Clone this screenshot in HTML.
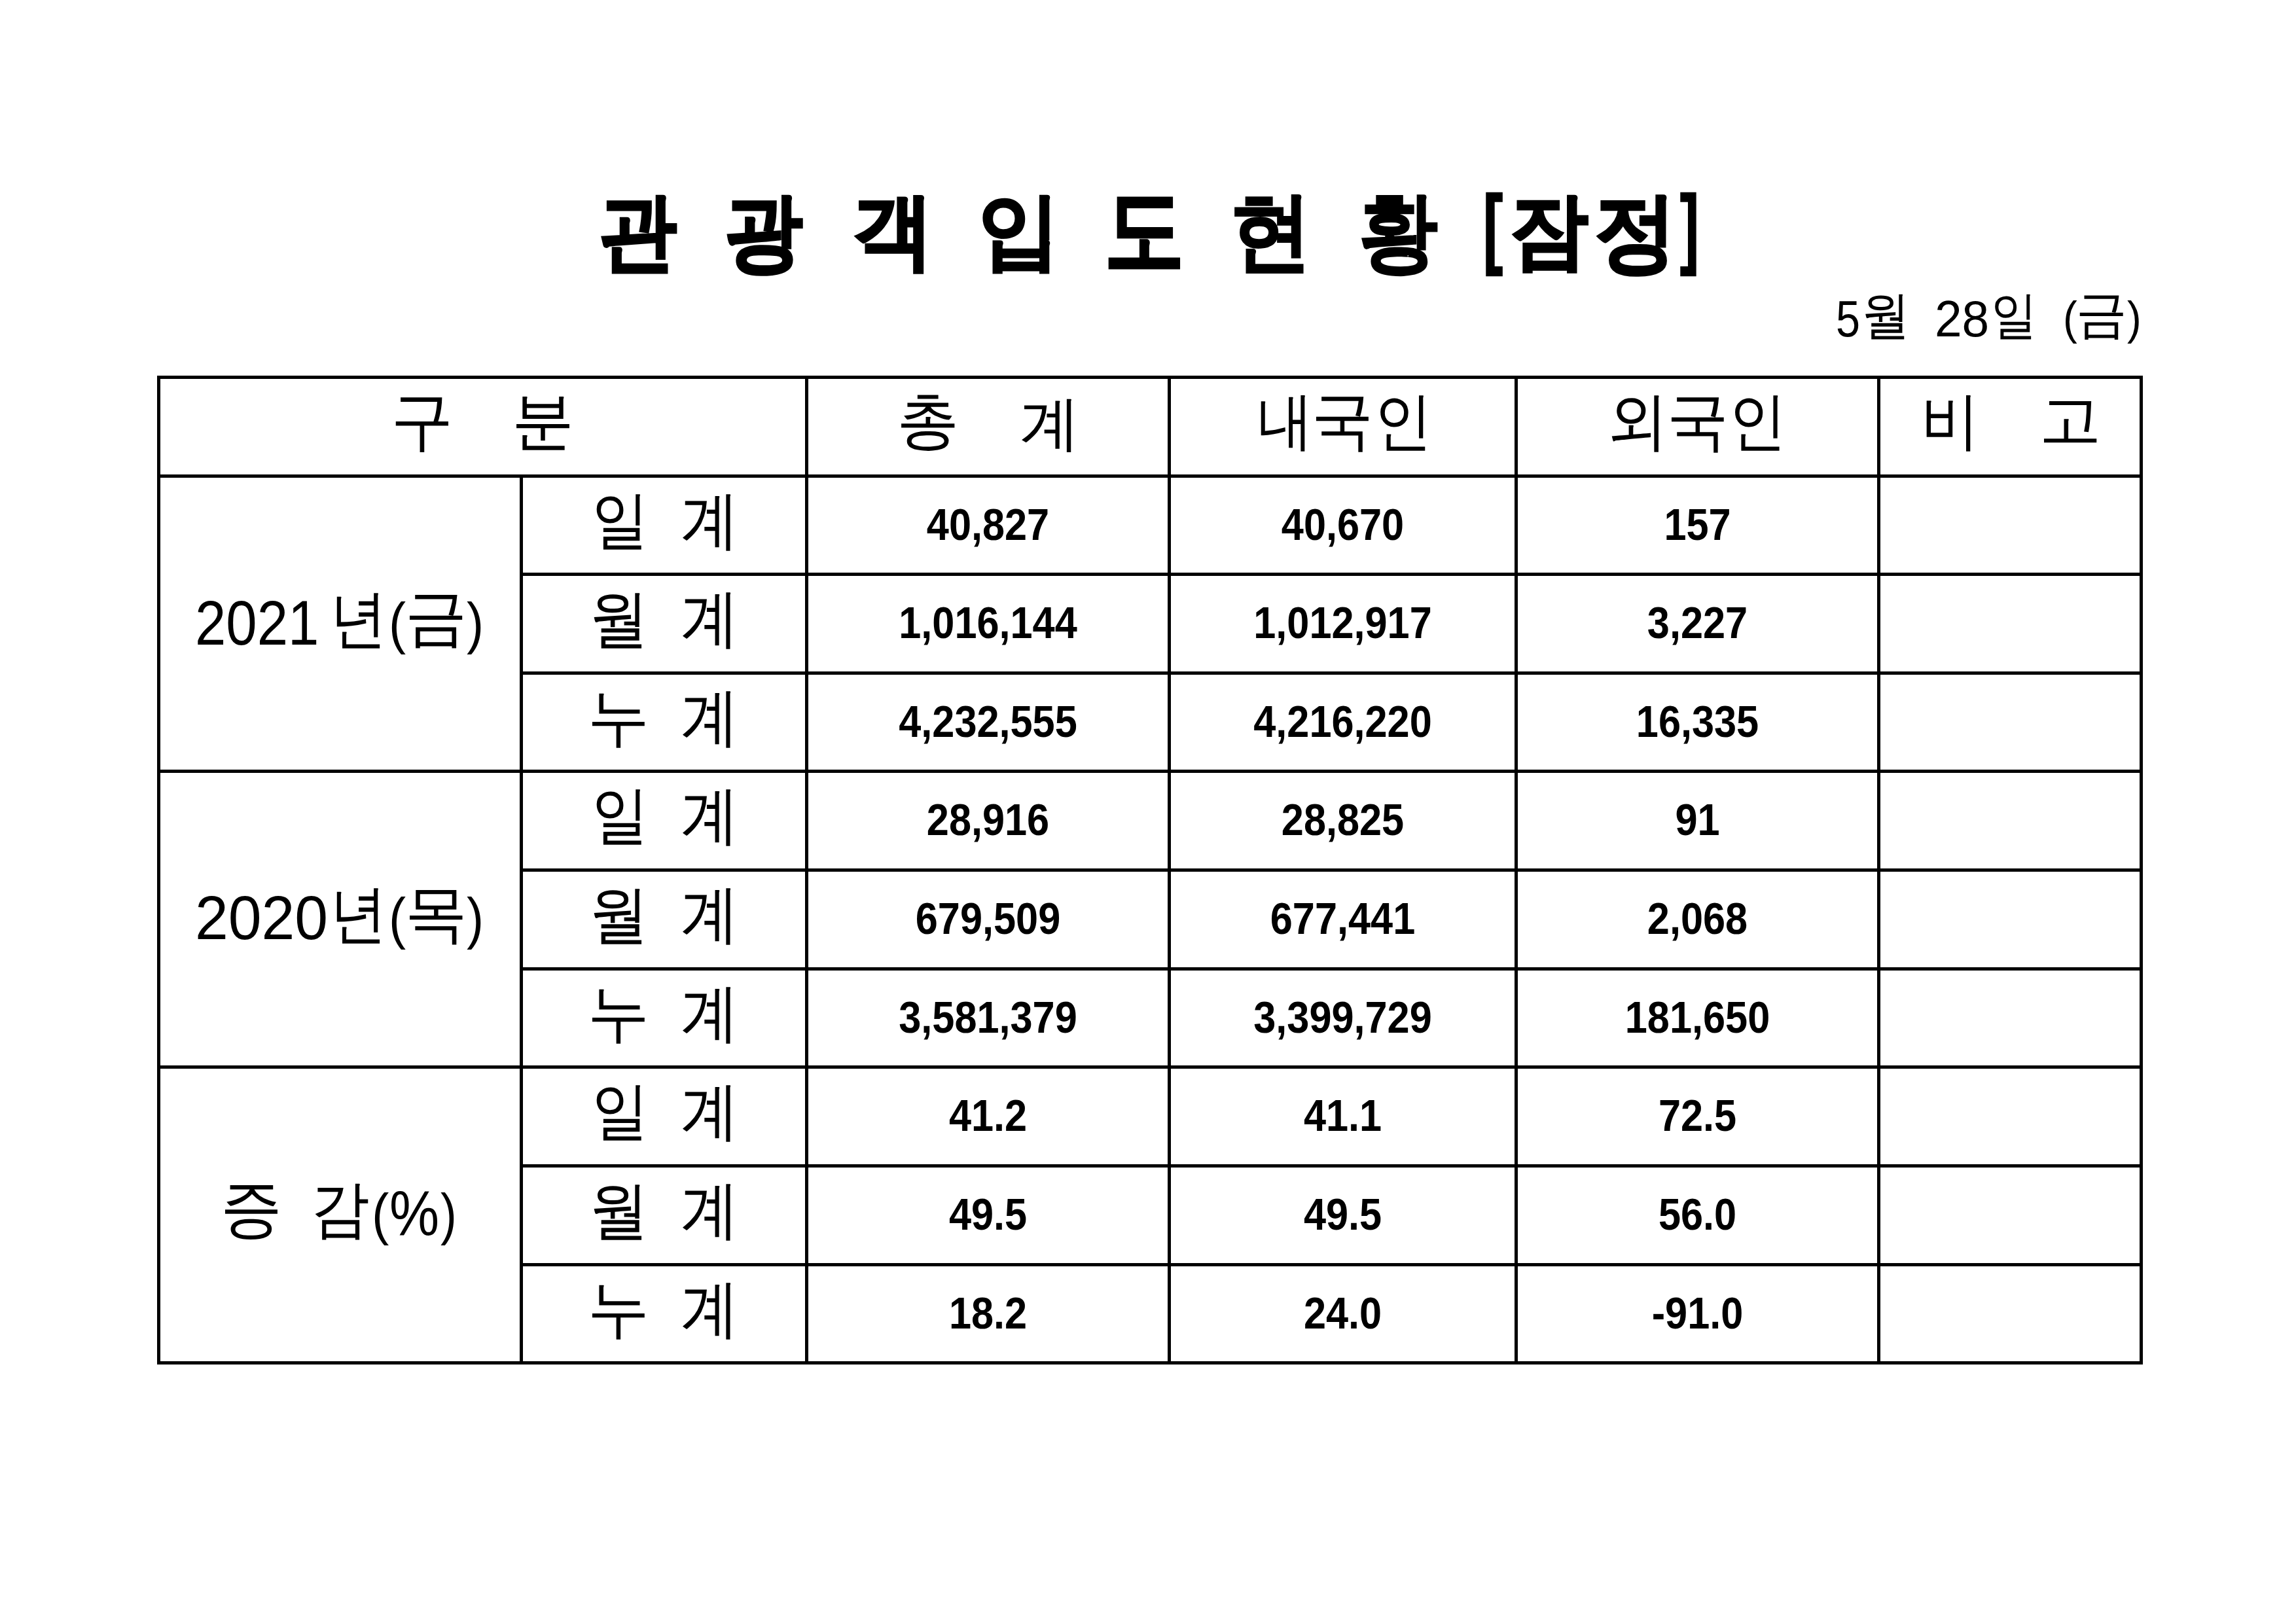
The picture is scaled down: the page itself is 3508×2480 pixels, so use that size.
<!DOCTYPE html>
<html lang="ko"><head><meta charset="utf-8"><title>관광객 입도 현황 (잠정)</title>
<style>
html,body{margin:0;padding:0;background:#fff;}
body{width:3508px;height:2480px;position:relative;overflow:hidden;font-family:"Liberation Sans",sans-serif;color:#000;}
.a{position:absolute;line-height:1;white-space:pre;transform-origin:0 0;}
.l{position:absolute;background:#000;}
.n{position:absolute;line-height:1;white-space:pre;text-align:center;font-weight:bold;transform-origin:50% 0;}
</style></head><body>

<div class="l" style="left:240px;top:574px;width:3034px;height:5px"></div>
<div class="l" style="left:240px;top:725px;width:3034px;height:5px"></div>
<div class="l" style="left:794px;top:875px;width:2480px;height:5px"></div>
<div class="l" style="left:794px;top:1026px;width:2480px;height:5px"></div>
<div class="l" style="left:240px;top:1176px;width:3034px;height:5px"></div>
<div class="l" style="left:794px;top:1327px;width:2480px;height:5px"></div>
<div class="l" style="left:794px;top:1478px;width:2480px;height:5px"></div>
<div class="l" style="left:240px;top:1628px;width:3034px;height:5px"></div>
<div class="l" style="left:794px;top:1779px;width:2480px;height:5px"></div>
<div class="l" style="left:794px;top:1930px;width:2480px;height:5px"></div>
<div class="l" style="left:240px;top:2080px;width:3034px;height:5px"></div>
<div class="l" style="left:240px;top:574px;width:5px;height:1511px"></div>
<div class="l" style="left:794px;top:725px;width:5px;height:1360px"></div>
<div class="l" style="left:1230px;top:574px;width:5px;height:1511px"></div>
<div class="l" style="left:1784px;top:574px;width:5px;height:1511px"></div>
<div class="l" style="left:2314px;top:574px;width:5px;height:1511px"></div>
<div class="l" style="left:2868px;top:574px;width:5px;height:1511px"></div>
<div class="l" style="left:3269px;top:574px;width:5px;height:1511px"></div>
<div class="a" style="left:915.10px;top:288.95px;font-size:130.11px;font-weight:bold;-webkit-text-stroke:3.5px #000;transform:scaleX(0.9142);">관</div>
<div class="a" style="left:1107.40px;top:288.95px;font-size:130.28px;font-weight:bold;-webkit-text-stroke:3.5px #000;transform:scaleX(0.9174);">광</div>
<div class="a" style="left:1301.65px;top:289.75px;font-size:125.52px;font-weight:bold;-webkit-text-stroke:3.5px #000;transform:scaleX(0.9837);">객</div>
<div class="a" style="left:1494.00px;top:288.70px;font-size:126.96px;font-weight:bold;-webkit-text-stroke:2.5px #000;transform:scaleX(0.9926);">입</div>
<div class="a" style="left:1687.95px;top:276.65px;font-size:147.82px;font-weight:bold;-webkit-text-stroke:3.5px #000;transform:scaleX(0.8161);">도</div>
<div class="a" style="left:1878.70px;top:288.20px;font-size:131.75px;font-weight:bold;-webkit-text-stroke:2px #000;transform:scaleX(0.9491);">현</div>
<div class="a" style="left:2075.75px;top:287.45px;font-size:133.30px;font-weight:bold;-webkit-text-stroke:2px #000;transform:scaleX(0.9073);">황</div>
<div class="a" style="left:2266.40px;top:279.25px;font-size:135.61px;font-weight:bold;-webkit-text-stroke:2.5px #000;transform:scaleX(0.6670);">[</div>
<div class="a" style="left:2307.20px;top:289.95px;font-size:125.22px;font-weight:bold;-webkit-text-stroke:3.5px #000;transform:scaleX(0.9557);">잠</div>
<div class="a" style="left:2435.70px;top:289.20px;font-size:131.59px;font-weight:bold;-webkit-text-stroke:3.5px #000;transform:scaleX(0.9517);">정</div>
<div class="a" style="left:2566.85px;top:279.25px;font-size:135.19px;font-weight:bold;-webkit-text-stroke:2.5px #000;transform:scaleX(0.6377);">]</div>
<div class="a" style="left:2804.65px;top:448.70px;font-size:77.96px;transform:scaleX(0.8537);">5</div>
<div class="a" style="left:2844.00px;top:442.40px;font-size:79.31px;transform:scaleX(0.9396);">월</div>
<div class="a" style="left:2955.70px;top:449.20px;font-size:77.30px;transform:scaleX(0.9681);">28</div>
<div class="a" style="left:3042.30px;top:442.40px;font-size:79.31px;transform:scaleX(0.8908);">일</div>
<div class="a" style="left:3151.80px;top:451.45px;font-size:70.08px;transform:scaleX(0.9315);">(</div>
<div class="a" style="left:3172.35px;top:439.90px;font-size:79.18px;transform:scaleX(0.9819);">금</div>
<div class="a" style="left:3249.70px;top:451.45px;font-size:70.08px;transform:scaleX(0.9315);">)</div>
<div class="a" style="left:597.00px;top:593.20px;font-size:99.08px;transform:scaleX(0.9689);">구</div>
<div class="a" style="left:781.60px;top:595.00px;font-size:96.00px;transform:scaleX(0.9903);">분</div>
<div class="a" style="left:1369.55px;top:595.00px;font-size:94.88px;transform:scaleX(1.0056);">총</div>
<div class="a" style="left:1557.75px;top:601.85px;font-size:90.75px;transform:scaleX(1.0103);">계</div>
<div class="a" style="left:1920.60px;top:595.35px;font-size:96.01px;transform:scaleX(0.8843);">내</div>
<div class="a" style="left:2004.00px;top:594.30px;font-size:96.69px;transform:scaleX(0.9686);">국</div>
<div class="a" style="left:2098.90px;top:594.90px;font-size:96.69px;transform:scaleX(0.9222);">인</div>
<div class="a" style="left:2455.40px;top:595.00px;font-size:97.12px;transform:scaleX(0.9668);">외</div>
<div class="a" style="left:2546.90px;top:594.50px;font-size:97.16px;transform:scaleX(0.9664);">국</div>
<div class="a" style="left:2641.25px;top:595.00px;font-size:97.14px;transform:scaleX(0.9138);">인</div>
<div class="a" style="left:2935.20px;top:595.20px;font-size:96.45px;transform:scaleX(0.9318);">비</div>
<div class="a" style="left:3116.35px;top:597.30px;font-size:90.83px;transform:scaleX(1.0375);">고</div>
<div class="a" style="left:298.45px;top:903.60px;font-size:96.29px;transform:scaleX(0.8836);">2021</div>
<div class="a" style="left:504.30px;top:897.80px;font-size:96.91px;transform:scaleX(0.8970);">년</div>
<div class="a" style="left:593.50px;top:908.55px;font-size:86.93px;transform:scaleX(0.9011);">(</div>
<div class="a" style="left:619.00px;top:896.45px;font-size:94.84px;transform:scaleX(0.9924);">금</div>
<div class="a" style="left:712.50px;top:908.55px;font-size:86.93px;transform:scaleX(0.9011);">)</div>
<div class="a" style="left:297.50px;top:1354.95px;font-size:95.44px;transform:scaleX(0.9569);">2020</div>
<div class="a" style="left:504.30px;top:1347.95px;font-size:97.03px;transform:scaleX(0.8960);">년</div>
<div class="a" style="left:593.85px;top:1359.75px;font-size:87.47px;transform:scaleX(0.8967);">(</div>
<div class="a" style="left:619.00px;top:1348.40px;font-size:95.56px;transform:scaleX(0.9850);">목</div>
<div class="a" style="left:712.50px;top:1359.75px;font-size:86.93px;transform:scaleX(0.9011);">)</div>
<div class="a" style="left:337.05px;top:1796.95px;font-size:98.01px;transform:scaleX(0.9591);">증</div>
<div class="a" style="left:475.30px;top:1799.75px;font-size:95.00px;transform:scaleX(0.9424);">감</div>
<div class="a" style="left:568.35px;top:1811.75px;font-size:86.83px;transform:scaleX(0.9112);">(</div>
<div class="a" style="left:595.40px;top:1806.25px;font-size:96.31px;transform:scaleX(0.8883);">%</div>
<div class="a" style="left:672.90px;top:1811.75px;font-size:86.83px;transform:scaleX(0.8580);">)</div>
<div class="a" style="left:903.60px;top:746.90px;font-size:96.91px;transform:scaleX(0.8981);">일</div>
<div class="a" style="left:1040.45px;top:746.00px;font-size:97.12px;transform:scaleX(0.9151);">계</div>
<div class="a" style="left:899.65px;top:896.75px;font-size:97.26px;transform:scaleX(0.9390);">월</div>
<div class="a" style="left:1040.45px;top:896.00px;font-size:97.12px;transform:scaleX(0.9151);">계</div>
<div class="a" style="left:897.90px;top:1049.00px;font-size:95.54px;transform:scaleX(0.9779);">누</div>
<div class="a" style="left:1040.45px;top:1047.00px;font-size:97.12px;transform:scaleX(0.9151);">계</div>
<div class="a" style="left:903.60px;top:1197.90px;font-size:96.91px;transform:scaleX(0.8981);">일</div>
<div class="a" style="left:1040.45px;top:1197.00px;font-size:97.12px;transform:scaleX(0.9151);">계</div>
<div class="a" style="left:899.65px;top:1348.75px;font-size:97.26px;transform:scaleX(0.9390);">월</div>
<div class="a" style="left:1040.45px;top:1348.00px;font-size:97.12px;transform:scaleX(0.9151);">계</div>
<div class="a" style="left:897.90px;top:1501.00px;font-size:95.54px;transform:scaleX(0.9779);">누</div>
<div class="a" style="left:1040.45px;top:1499.00px;font-size:97.12px;transform:scaleX(0.9151);">계</div>
<div class="a" style="left:903.60px;top:1649.90px;font-size:96.91px;transform:scaleX(0.8981);">일</div>
<div class="a" style="left:1040.45px;top:1649.00px;font-size:97.12px;transform:scaleX(0.9151);">계</div>
<div class="a" style="left:899.65px;top:1800.75px;font-size:97.26px;transform:scaleX(0.9390);">월</div>
<div class="a" style="left:1040.45px;top:1800.00px;font-size:97.12px;transform:scaleX(0.9151);">계</div>
<div class="a" style="left:897.90px;top:1953.00px;font-size:95.54px;transform:scaleX(0.9779);">누</div>
<div class="a" style="left:1040.45px;top:1951.00px;font-size:97.12px;transform:scaleX(0.9151);">계</div>
<div class="n" style="left:1235px;top:767.60px;width:549px;font-size:67.70px;transform:scaleX(0.9050)">40,827</div>
<div class="n" style="left:1789px;top:767.60px;width:525px;font-size:67.70px;transform:scaleX(0.9050)">40,670</div>
<div class="n" style="left:2319px;top:767.60px;width:549px;font-size:67.70px;transform:scaleX(0.9050)">157</div>
<div class="n" style="left:1235px;top:917.60px;width:549px;font-size:67.70px;transform:scaleX(0.9050)">1,016,144</div>
<div class="n" style="left:1789px;top:917.60px;width:525px;font-size:67.70px;transform:scaleX(0.9050)">1,012,917</div>
<div class="n" style="left:2319px;top:917.60px;width:549px;font-size:67.70px;transform:scaleX(0.9050)">3,227</div>
<div class="n" style="left:1235px;top:1068.60px;width:549px;font-size:67.70px;transform:scaleX(0.9050)">4,232,555</div>
<div class="n" style="left:1789px;top:1068.60px;width:525px;font-size:67.70px;transform:scaleX(0.9050)">4,216,220</div>
<div class="n" style="left:2319px;top:1068.60px;width:549px;font-size:67.70px;transform:scaleX(0.9050)">16,335</div>
<div class="n" style="left:1235px;top:1218.60px;width:549px;font-size:67.70px;transform:scaleX(0.9050)">28,916</div>
<div class="n" style="left:1789px;top:1218.60px;width:525px;font-size:67.70px;transform:scaleX(0.9050)">28,825</div>
<div class="n" style="left:2319px;top:1218.60px;width:549px;font-size:67.70px;transform:scaleX(0.9050)">91</div>
<div class="n" style="left:1235px;top:1369.60px;width:549px;font-size:67.70px;transform:scaleX(0.9050)">679,509</div>
<div class="n" style="left:1789px;top:1369.60px;width:525px;font-size:67.70px;transform:scaleX(0.9050)">677,441</div>
<div class="n" style="left:2319px;top:1369.60px;width:549px;font-size:67.70px;transform:scaleX(0.9050)">2,068</div>
<div class="n" style="left:1235px;top:1520.60px;width:549px;font-size:67.70px;transform:scaleX(0.9050)">3,581,379</div>
<div class="n" style="left:1789px;top:1520.60px;width:525px;font-size:67.70px;transform:scaleX(0.9050)">3,399,729</div>
<div class="n" style="left:2319px;top:1520.60px;width:549px;font-size:67.70px;transform:scaleX(0.9050)">181,650</div>
<div class="n" style="left:1235px;top:1670.60px;width:549px;font-size:67.70px;transform:scaleX(0.9050)">41.2</div>
<div class="n" style="left:1789px;top:1670.60px;width:525px;font-size:67.70px;transform:scaleX(0.9050)">41.1</div>
<div class="n" style="left:2319px;top:1670.60px;width:549px;font-size:67.70px;transform:scaleX(0.9050)">72.5</div>
<div class="n" style="left:1235px;top:1821.60px;width:549px;font-size:67.70px;transform:scaleX(0.9050)">49.5</div>
<div class="n" style="left:1789px;top:1821.60px;width:525px;font-size:67.70px;transform:scaleX(0.9050)">49.5</div>
<div class="n" style="left:2319px;top:1821.60px;width:549px;font-size:67.70px;transform:scaleX(0.9050)">56.0</div>
<div class="n" style="left:1235px;top:1972.60px;width:549px;font-size:67.70px;transform:scaleX(0.9050)">18.2</div>
<div class="n" style="left:1789px;top:1972.60px;width:525px;font-size:67.70px;transform:scaleX(0.9050)">24.0</div>
<div class="n" style="left:2319px;top:1972.60px;width:549px;font-size:67.70px;transform:scaleX(0.9050)">-91.0</div>
</body></html>
